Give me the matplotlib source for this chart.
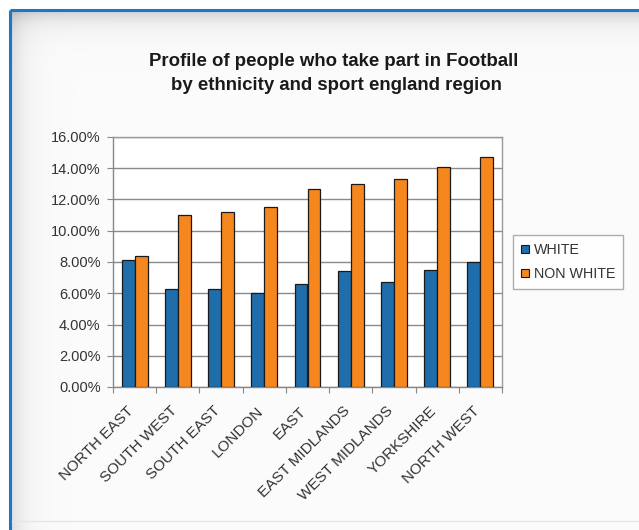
import numpy as np
import matplotlib.pyplot as plt
from matplotlib.lines import Line2D
from matplotlib.transforms import ScaledTranslation

plt.rcParams['font.family'] = ['Liberation Sans', 'DejaVu Sans']

regions = ['NORTH EAST', 'SOUTH WEST', 'SOUTH EAST', 'LONDON', 'EAST',
           'EAST MIDLANDS', 'WEST MIDLANDS', 'YORKSHIRE', 'NORTH WEST']
white = [8.1, 6.3, 6.3, 6.0, 6.6, 7.4, 6.7, 7.5, 8.0]
non_white = [8.4, 11.0, 11.2, 11.5, 12.7, 13.0, 13.3, 14.1, 14.7]

blue = '#1f6dab'
orange = '#f6871f'

W, H = 639, 530
fig = plt.figure(figsize=(W / 100, H / 100), dpi=100, facecolor='white')

# panel background with soft shading along the top and left of the frame
bg = fig.add_axes([0, 0, 1, 1], zorder=-10)
yy, xx = np.mgrid[0:H, 0:W]
shade = np.full((H, W), 0.985)
shade -= 0.15 * np.exp(-np.clip(yy - 12, 0, None) / 11.0)
shade -= 0.11 * np.exp(-np.clip(xx - 12, 0, None) / 12.0)
shade[(yy < 10) | (xx < 10)] = 1.0
img = np.dstack([shade] * 3)
bg.imshow(img, extent=(0, W, H, 0), aspect='auto', interpolation='bilinear')
bg.plot([10, W], [10, 10], color='#1b78c6', lw=2.2, solid_capstyle='butt')
bg.plot([10, 10], [10, H], color='#1b78c6', lw=2.2, solid_capstyle='butt')
bg.plot([12, W], [521, 521], color='#e6e6e6', lw=1)
bg.set_xlim(0, W)
bg.set_ylim(H, 0)
bg.axis('off')

ax = fig.add_axes([113 / W, 1 - 387 / H, (502 - 113) / W, 250 / H])
ax.set_facecolor('white')

x = np.arange(len(regions))
w = 0.3
ax.bar(x - w / 2, white, w, color=blue, edgecolor='#1a1a1a', linewidth=0.9,
       label='WHITE', zorder=3)
ax.bar(x + w / 2, non_white, w, color=orange, edgecolor='#1a1a1a', linewidth=0.9,
       label='NON WHITE', zorder=3)

ax.set_ylim(0, 16)
ax.set_xlim(-0.5, len(regions) - 0.5)
yt = np.arange(0, 17, 2)
ax.set_yticks(yt)
ax.set_yticklabels(['%.2f%%' % v for v in yt], fontsize=10.5, color='#333333')
ax.yaxis.grid(True, color='#8a8a8a', linewidth=1, zorder=0)

ax.set_xticks(np.arange(-0.5, len(regions), 1))
ax.set_xticklabels([])
ax.set_xticks(x, minor=True)
ax.set_xticklabels(regions, minor=True, rotation=45, ha='right',
                   rotation_mode='anchor', fontsize=11, color='#333333')
ax.tick_params(axis='x', which='minor', length=0, pad=12)
ax.tick_params(axis='x', which='major', length=4, color='#888888')
ax.tick_params(axis='y', length=4, color='#888888', pad=5)

# nudge the slanted region names a little to the left
shift = ScaledTranslation(-8 / 100, 0, fig.dpi_scale_trans)
for lab in ax.get_xticklabels(minor=True):
    lab.set_transform(lab.get_transform() + shift)

for s in ax.spines.values():
    s.set_color('#9a9a9a')
    s.set_linewidth(1)
ax.spines['left'].set_color('#888888')
ax.spines['bottom'].set_color('#888888')

handles = [Line2D([], [], marker='s', ls='none', markersize=6,
                  markerfacecolor=c, markeredgecolor='#1a1a1a', markeredgewidth=0.8)
           for c in (blue, orange)]
leg = fig.legend(handles, ['WHITE', 'NON WHITE'], loc='center left',
                 bbox_to_anchor=(513 / W, 1 - 262 / H), fontsize=10.3,
                 frameon=True, fancybox=False, handlelength=0.6,
                 handletextpad=0.3, borderpad=0.55, labelspacing=0.65,
                 borderaxespad=0)
leg.get_frame().set_edgecolor('#9a9a9a')
leg.get_frame().set_linewidth(1)
for t in leg.get_texts():
    t.set_color('#333333')

fig.text(334 / W, 1 - 61 / H, 'Profile of people who take part in Football',
         ha='center', va='center', fontsize=13.4, fontweight='bold', color='#1a1a1a')
fig.text(336 / W, 1 - 86 / H, 'by ethnicity and sport england region',
         ha='center', va='center', fontsize=13.4, fontweight='bold', color='#1a1a1a')

fig.savefig('out.png', dpi=100, facecolor='white')
